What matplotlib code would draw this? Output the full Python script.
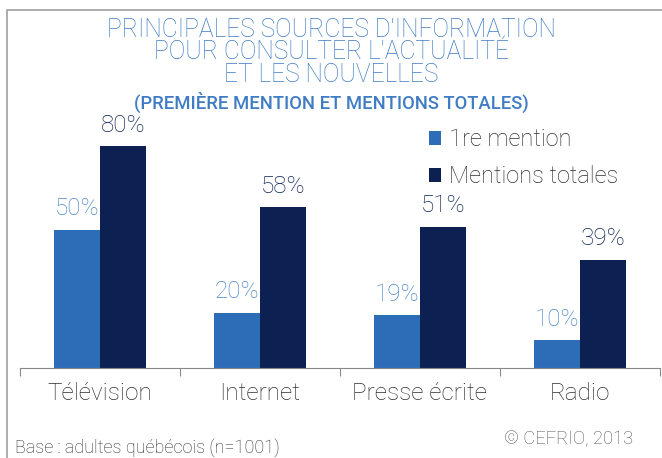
import matplotlib
matplotlib.use("Agg")
import matplotlib.pyplot as plt
from matplotlib.patches import Rectangle
import numpy as np

categories = ["Télévision", "Internet", "Presse écrite", "Radio"]
first_mention = [50, 20, 19, 10]
total_mentions = [80, 58, 51, 39]
series_names = ["1re mention", "Mentions totales"]

light = "#2d6db8"
dark = "#0c2152"
title_col = "#3f7cc4"
text_col = "#2e2e2e"

plt.rcParams["font.family"] = ["Roboto", "DejaVu Sans"]
plt.rcParams["font.weight"] = "light"

fig = plt.figure(figsize=(6.62, 4.58), dpi=100)
# frame on top/left like the original screenshot
fig.add_artist(Rectangle((7 / 662, -0.1), 1.2, 1 - 10 / 458 + 0.1,
                         transform=fig.transFigure, fill=False,
                         edgecolor="#a0a0a0", linewidth=1.2))

ax = fig.add_axes([20 / 662, 1 - 368 / 458, 640 / 662, 277 / 458])
x = np.arange(len(categories))
w = 0.2875
b1 = ax.bar(x - w / 2, first_mention, w, color=light, label=series_names[0])
b2 = ax.bar(x + w / 2, total_mentions, w, color=dark, label=series_names[1])

for rect, v in zip(b1, first_mention):
    ax.text(rect.get_x() + rect.get_width() / 2, v + 3.5, f"{v}%",
            ha="center", va="bottom", fontsize=17.5, color="#4a86c8")
for rect, v in zip(b2, total_mentions):
    ax.text(rect.get_x() + rect.get_width() / 2, v + 3.5, f"{v}%",
            ha="center", va="bottom", fontsize=17.5, color=dark)

ax.set_xlim(-0.5, len(categories) - 0.5)
ax.set_ylim(0, 100)
for s in ["top", "right", "left"]:
    ax.spines[s].set_visible(False)
ax.spines["bottom"].set_color("#888888")
ax.set_yticks([])
ax.set_xticks(np.arange(len(categories) + 1) - 0.5, minor=False)
ax.set_xticklabels([])
ax.tick_params(axis="x", direction="out", length=6, color="#888888")
for i, c in enumerate(categories):
    ax.text(i, -5.0, c, ha="center", va="top", fontsize=17.5,
            color=text_col)

leg = fig.legend(handles=[b1, b2], labels=series_names,
                 loc="upper left", bbox_to_anchor=(408 / 662, 1 - 107 / 458),
                 frameon=False, fontsize=17, handlelength=0.5,
                 handleheight=0.5, handletextpad=0.35, labelspacing=0.6)
for t in leg.get_texts():
    t.set_color(text_col)

fig.text(0.5, 1 - 30 / 458, "PRINCIPALES SOURCES D'INFORMATION",
         ha="center", va="center", fontsize=17.7, color=title_col)
fig.text(0.5, 1 - 52 / 458, "POUR CONSULTER L'ACTUALITÉ",
         ha="center", va="center", fontsize=17.7, color=title_col)
fig.text(0.5, 1 - 75 / 458, "ET LES NOUVELLES",
         ha="center", va="center", fontsize=17.7, color=title_col)
fig.text(0.5, 1 - 102 / 458, "(PREMIÈRE MENTION ET MENTIONS TOTALES)",
         ha="center", va="center", fontsize=13.3, color=title_col, fontweight="medium")

fig.text(15 / 662, 1 - 448 / 458, "Base : adultes québécois (n=1001)",
         ha="left", va="center", fontsize=13, color=text_col)
fig.text(633 / 662, 1 - 439 / 458, "© CEFRIO, 2013",
         ha="right", va="center", fontsize=13.2, color="#555555")

fig.savefig("out.png", dpi=100)
